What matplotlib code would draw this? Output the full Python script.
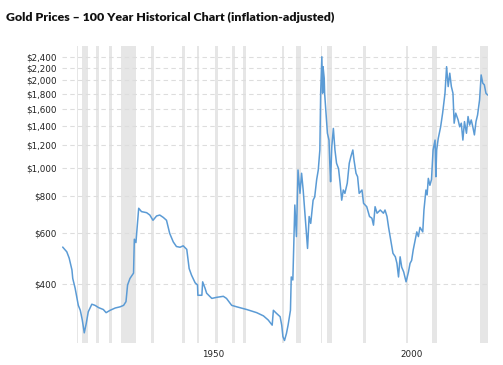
import matplotlib
matplotlib.use("Agg")
import matplotlib.pyplot as plt
from matplotlib.ticker import FixedLocator, NullLocator

# inflation-adjusted gold price (USD/oz)
years = [1915.0, 1916.0, 1916.6, 1917.3, 1917.5, 1918.1, 1918.9, 1919.4, 1919.9, 1920.4,
         1920.9, 1921.4, 1922.3, 1923.1, 1924.0, 1925.2, 1925.9, 1926.9, 1928.2, 1929.4,
         1930.3, 1930.9, 1931.3, 1931.9, 1932.8, 1933.0, 1933.4, 1934.1, 1934.8, 1936.1,
         1936.9, 1937.7, 1938.6, 1939.4, 1940.3, 1941.1, 1941.9, 1942.8, 1943.6, 1944.5,
         1945.3, 1946.2, 1946.8, 1947.4, 1948.3, 1948.9, 1949.0, 1950.0, 1950.2, 1950.8,
         1951.2, 1952.5, 1953.7, 1955.4, 1956.2, 1957.5, 1958.8, 1961.3, 1963.8, 1965.5,
         1966.7, 1967.7, 1968.0, 1968.7, 1969.7, 1970.1, 1970.4, 1970.8, 1971.3, 1971.7,
         1972.3, 1972.5, 1972.9, 1973.4, 1973.8, 1974.2, 1974.7, 1975.1, 1975.5, 1976.2,
         1976.6, 1977.0, 1977.4, 1978.0, 1978.4, 1978.9, 1979.3, 1979.7, 1979.9, 1980.2,
         1980.4, 1980.5, 1980.8, 1980.9, 1981.2, 1981.6, 1982.0, 1982.2, 1982.4, 1982.7,
         1983.1, 1983.5, 1983.9, 1984.4, 1984.8, 1985.2, 1985.6, 1986.0, 1986.6, 1987.1,
         1987.5, 1988.0, 1988.3, 1988.8, 1989.2, 1989.6, 1990.3, 1990.7, 1991.5, 1992.2,
         1992.8, 1993.2, 1993.6, 1994.1, 1994.9, 1995.7, 1996.1, 1996.6, 1997.0, 1997.4,
         1998.1, 1998.7, 1999.1, 1999.5, 1999.9, 2000.3, 2000.8, 2001.4, 2002.0, 2002.4,
         2002.8, 2003.2, 2004.1, 2004.5, 2004.9, 2005.6, 2005.9, 2006.4, 2006.7, 2007.0,
         2007.4, 2007.8, 2008.2, 2008.7, 2008.9, 2009.1, 2009.5, 2010.1, 2010.6, 2011.2,
         2011.6, 2012.0, 2012.4, 2012.8, 2013.2, 2013.5, 2013.9, 2014.5, 2014.9, 2015.3,
         2015.7, 2016.1, 2016.6, 2017.0, 2017.4, 2017.8, 2018.2, 2018.6, 2019.0, 2019.4,
         2019.9, 2020.3, 2020.7, 2021.1, 2021.5, 2021.9]
prices = [535, 516, 491, 447, 418, 387, 338, 325, 301, 272,
          293, 321, 341, 338, 332, 327, 319, 325, 331, 334,
          338, 348, 397, 418, 436, 570, 555, 728, 709, 703,
          690, 662, 685, 690, 677, 662, 597, 558, 538, 535,
          541, 526, 452, 429, 404, 397, 366, 366, 407, 387,
          372, 357, 360, 363, 357, 338, 334, 327, 319, 311,
          301, 289, 325, 318, 309, 289, 264, 256, 271, 289,
          325, 423, 413, 747, 582, 985, 819, 960, 841, 626,
          530, 682, 646, 776, 796, 914, 985, 1154, 1808, 2411,
          1808, 2229, 2034, 1808, 1583, 1317, 1248, 1039, 898, 1184,
          1368, 1154, 1039, 996, 888, 776, 841, 819, 888, 1039,
          1094, 1154, 1065, 960, 934, 819, 841, 757, 737, 682,
          673, 637, 737, 700, 718, 700, 718, 682, 626, 582,
          510, 496, 471, 423, 496, 457, 440, 407, 440, 471,
          482, 524, 604, 582, 626, 604, 718, 841, 809, 922,
          873, 914, 1154, 1248, 934, 1154, 1264, 1386, 1544, 1808,
          2229, 1905, 2117, 1905, 1808, 1426, 1544, 1463, 1386, 1426,
          1248, 1444, 1317, 1503, 1405, 1463, 1386, 1300, 1444, 1522,
          1713, 2088, 1957, 1931, 1808, 1784]

# recession periods (start, end)
recessions = [(1918.5, 1918.9), (1919.9, 1921.4), (1923.3, 1924.2), (1926.7, 1927.5),
              (1929.6, 1933.3), (1937.2, 1938.0), (1945.1, 1945.8), (1948.7, 1949.4),
              (1953.3, 1954.1), (1957.5, 1958.3), (1960.3, 1961.0), (1970.1, 1970.7),
              (1973.8, 1974.9), (1980.0, 1980.3), (1981.6, 1982.8), (1990.5, 1991.4),
              (2001.3, 2002.0), (2007.9, 2009.3), (2020.0, 2021.9)]

y_ticks = [400, 600, 800, 1000, 1200, 1400, 1600, 1800, 2000, 2200, 2400]
x_ticks = [1950, 2000]

fig = plt.figure(figsize=(5.03, 3.65), dpi=100)
ax = fig.add_axes([0.1233, 0.0603, 0.8467, 0.8137])

for start, end in recessions:
    ax.axvspan(start, end, color='#e6e6e6', lw=0, zorder=0)

for v in y_ticks:
    ax.axhline(v, color='#dddddd', lw=0.8, ls=(0, (4, 3)), zorder=1)

ax.plot(years, prices, color='#5b9bd5', lw=1.1, zorder=3)

ax.set_yscale('log')
ax.set_ylim(251, 2625)
ax.set_xlim(1914.8, 2022.0)

ax.yaxis.set_major_locator(FixedLocator(y_ticks))
ax.yaxis.set_minor_locator(NullLocator())
ax.set_yticklabels(['${:,}'.format(v) for v in y_ticks])
ax.set_xticks(x_ticks)
ax.set_xticklabels([str(x) for x in x_ticks], ha='left')
ax.xaxis.set_minor_locator(NullLocator())

ax.tick_params(axis='both', length=0, labelsize=6.3, colors='#222222')
ax.tick_params(axis='y', pad=4)
ax.tick_params(axis='x', pad=5)
for spine in ax.spines.values():
    spine.set_visible(False)

fig.text(0.012, 0.953, 'Gold Prices \u2013 100 Year Historical Chart (inflation-adjusted)',
         fontsize=8.9, fontweight='heavy', family='Lato', color='#111111', va='center')

fig.savefig('out.png', dpi=100)
